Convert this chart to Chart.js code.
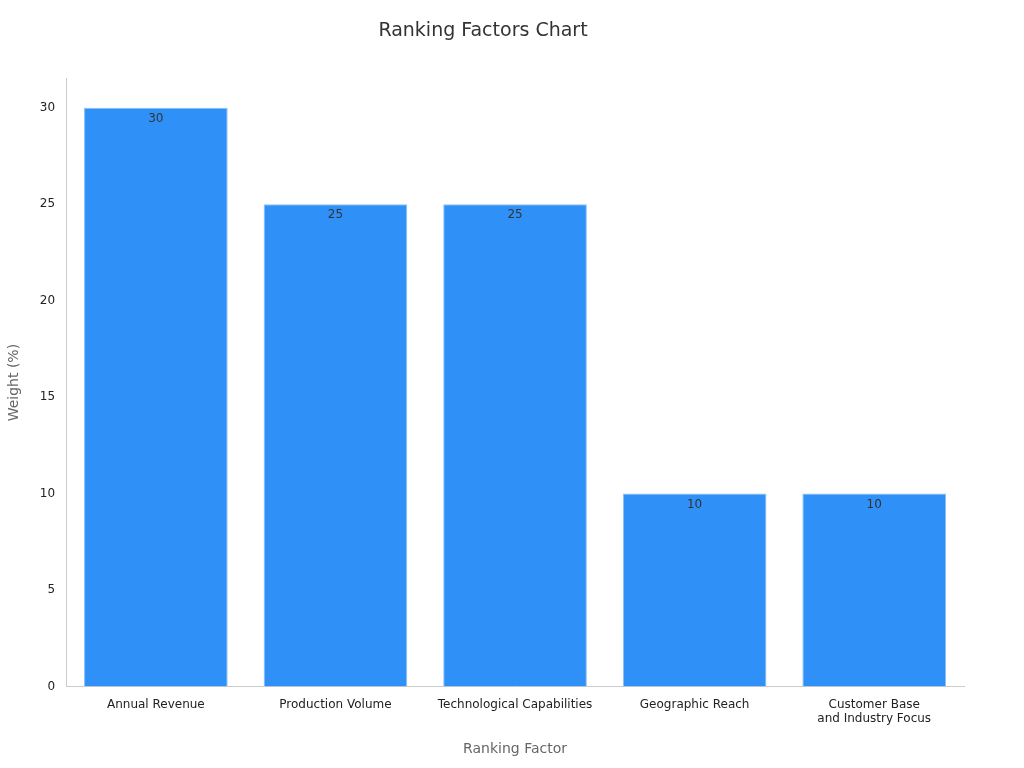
<!DOCTYPE html>
<html>
<head>
<meta charset="utf-8">
<script src="https://cdn.jsdelivr.net/npm/chart.js@4"></script>
<style>
  body { margin: 0; background: #fff; }
  #wrap { width: 1024px; height: 768px; }
</style>
</head>
<body>
<div id="wrap"><canvas id="chart"></canvas></div>
<script>
const categories = ['Annual Revenue', 'Production Volume', 'Technological Capabilities', 'Geographic Reach', ['Customer Base', 'and Industry Focus']];
const weights = [30, 25, 25, 10, 10];

// draws the value just inside the top of each bar
const barLabels = {
  id: 'barLabels',
  afterDatasetsDraw(chart) {
    const ctx = chart.ctx;
    ctx.save();
    ctx.font = '12px "DejaVu Sans"';
    ctx.fillStyle = '#333';
    ctx.textAlign = 'center';
    ctx.textBaseline = 'top';
    chart.getDatasetMeta(0).data.forEach((bar, i) => {
      ctx.fillText(weights[i], bar.x, bar.y + 5);
    });
    ctx.restore();
  }
};

new Chart(document.getElementById('chart').getContext('2d'), {
  type: 'bar',
  data: {
    labels: categories,
    datasets: [{
      data: weights,
      backgroundColor: '#2f91f7',
      borderColor: '#8cc0f5',
      borderWidth: 1,
      barPercentage: 0.8,
      categoryPercentage: 1
    }]
  },
  options: {
    responsive: true,
    maintainAspectRatio: false,
    animation: false,
    layout: { padding: { left: 2, right: 60, top: 10, bottom: 6 } },
    plugins: {
      legend: { display: false },
      tooltip: { enabled: false },
      title: {
        display: true,
        text: 'Ranking Factors Chart',
        color: '#333',
        font: { family: 'DejaVu Sans', size: 19, weight: 'normal' },
        padding: { top: 10, bottom: 36 }
      }
    },
    scales: {
      x: {
        grid: { display: false, drawTicks: true },
        border: { color: '#ccc' },
        ticks: { color: '#222', font: { family: 'DejaVu Sans', size: 12 } },
        title: {
          display: true, text: 'Ranking Factor', color: '#666',
          font: { family: 'DejaVu Sans', size: 14 }, padding: { top: 12 }
        }
      },
      y: {
        min: 0, max: 31.5,
        grid: { display: false },
        border: { color: '#ccc' },
        ticks: {
          stepSize: 5, color: '#222', font: { family: 'DejaVu Sans', size: 12 },
          callback: v => (v % 5 === 0 ? v : null)
        },
        title: {
          display: true, text: 'Weight (%)', color: '#666',
          font: { family: 'DejaVu Sans', size: 14 }, padding: { bottom: 14 }
        }
      }
    }
  },
  plugins: [barLabels]
});
</script>
</body>
</html>
